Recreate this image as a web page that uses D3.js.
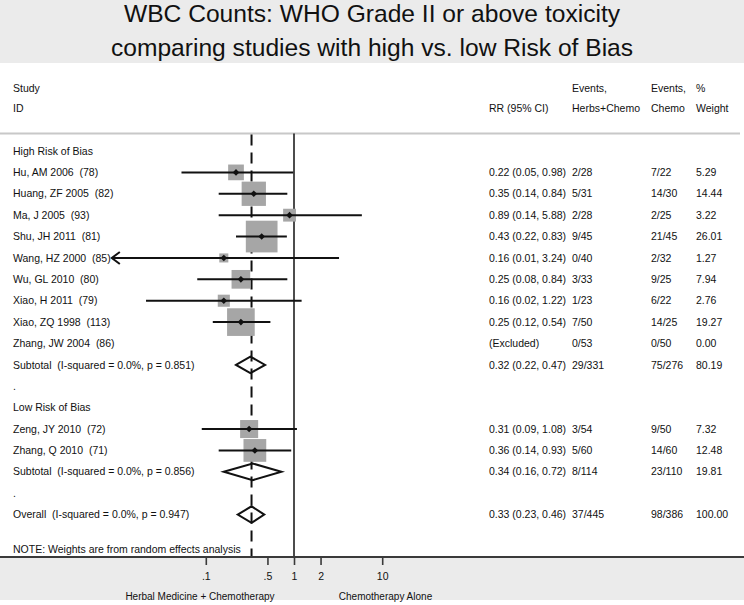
<!DOCTYPE html>
<html>
<head>
<meta charset="utf-8">
<script src="https://cdn.jsdelivr.net/npm/d3@7"></script>
<style>
  html, body { margin: 0; padding: 0; background: #fff; }
  svg text { font-family: "Liberation Sans", Arial, Helvetica, sans-serif; fill: #111; white-space: pre; }
</style>
</head>
<body>
<svg id="chart" width="744" height="605"></svg>
<script>
// ---------------- DATA ----------------
const titleLines = ["WBC Counts: WHO Grade II or above toxicity",
                    "comparing studies with high vs. low Risk of Bias"];
const rowLabels = [
  "High Risk of Bias",
  "Hu, AM 2006  (78)",
  "Huang, ZF 2005  (82)",
  "Ma, J 2005  (93)",
  "Shu, JH 2011  (81)",
  "Wang, HZ 2000  (85)",
  "Wu, GL 2010  (80)",
  "Xiao, H 2011  (79)",
  "Xiao, ZQ 1998  (113)",
  "Zhang, JW 2004  (86)",
  "Subtotal  (I-squared = 0.0%, p = 0.851)",
  ".",
  "Low Risk of Bias",
  "Zeng, JY 2010  (72)",
  "Zhang, Q 2010  (71)",
  "Subtotal  (I-squared = 0.0%, p = 0.856)",
  ".",
  "Overall  (I-squared = 0.0%, p = 0.947)"
];
const rowTypes = ["group","study","study","study","study","study","study","study","study","study",
                  "pooled","blank","group","study","study","pooled","blank","pooled"];
const rrValues = [null,0.22,0.35,0.89,0.43,0.16,0.25,0.16,0.25,null,0.32,null,null,0.31,0.36,0.34,null,0.33];
const ciLower  = [null,0.053,0.14,0.14,0.22,0.0086,0.08,0.021,0.12,null,0.22,null,null,0.09,0.14,0.16,null,0.23];
const ciUpper  = [null,0.98,0.84,5.88,0.83,3.24,0.84,1.22,0.54,null,0.47,null,null,1.08,0.93,0.72,null,0.46];
const ciText   = ["","0.22 (0.05, 0.98)","0.35 (0.14, 0.84)","0.89 (0.14, 5.88)","0.43 (0.22, 0.83)",
                  "0.16 (0.01, 3.24)","0.25 (0.08, 0.84)","0.16 (0.02, 1.22)","0.25 (0.12, 0.54)",
                  "(Excluded)","0.32 (0.22, 0.47)","","","0.31 (0.09, 1.08)","0.36 (0.14, 0.93)",
                  "0.34 (0.16, 0.72)","","0.33 (0.23, 0.46)"];
const eventsHerbs = ["","2/28","5/31","2/28","9/45","0/40","3/33","1/23","7/50","0/53","29/331","","",
                     "3/54","5/60","8/114","","37/445"];
const eventsChemo = ["","7/22","14/30","2/25","21/45","2/32","9/25","6/22","14/25","0/50","75/276","","",
                     "9/50","14/60","23/110","","98/386"];
const weights = [null,5.29,14.44,3.22,26.01,1.27,7.94,2.76,19.27,0.00,80.19,null,null,7.32,12.48,19.81,null,100.00];
const overallRR = 0.33;
const tickValues = [0.1, 0.5, 1, 2, 10];
const tickLabels = [".1", ".5", "1", "2", "10"];
const headerTop = ["Study", "", "Events,", "Events,", "%"];
const headerBottom = ["ID", "RR (95% CI)", "Herbs+Chemo", "Chemo", "Weight"];
const axisTitles = ["Herbal Medicine + Chemotherapy", "Chemotherapy Alone"];
const noteText = "NOTE: Weights are from random effects analysis";

// ---------------- LAYOUT ----------------
const W = 744, H = 605;
const svg = d3.select("#chart");
const fs = 10.5;
const colX = [13, 489, 572, 651, 696];
const plotTop = 133.5, axisY = 557;

const x = d3.scaleLog().domain([0.1, 10]).range([205.8, 382.2]);
const y = d3.scalePoint().domain(d3.range(rowLabels.length)).range([151, 514.6]);
const side = d3.scaleLinear().domain([0, Math.sqrt(26.01)]).range([2.6, 31.7]);

// Title band
svg.append("rect").attr("x",0).attr("y",0).attr("width",W).attr("height",63).attr("fill","#ebebeb");
svg.selectAll("text.title").data(titleLines).join("text")
  .attr("class","title")
  .attr("x", W/2).attr("y",(d,i)=> i===0 ? 22 : 55.5)
  .attr("text-anchor","middle")
  .style("font-size","24.6px")
  .text(d=>d);

// Bottom band
svg.append("rect").attr("x",0).attr("y",axisY).attr("width",W).attr("height",43).attr("fill","#ebebeb");

// Header
headerTop.forEach((t,i)=>{
  if (t) svg.append("text").attr("x",colX[i]).attr("y",88).attr("dy","0.35em").style("font-size",fs+"px").text(t);
});
headerBottom.forEach((t,i)=>{
  svg.append("text").attr("x",colX[i]).attr("y",108).attr("dy","0.35em").style("font-size",fs+"px").text(t);
});

// Separator
svg.append("line").attr("x1",0).attr("x2",740).attr("y1",plotTop).attr("y2",plotTop)
  .attr("stroke","#c8c8c8").attr("stroke-width",2);

// Reference lines
svg.append("line").attr("x1",x(1)).attr("x2",x(1)).attr("y1",plotTop).attr("y2",axisY)
  .attr("stroke","#111").attr("stroke-width",1.5);
svg.append("line").attr("x1",x(overallRR)).attr("x2",x(overallRR)).attr("y1",plotTop+1).attr("y2",axisY)
  .attr("stroke","#111").attr("stroke-width",2).attr("stroke-dasharray","11,7");

const idx = d3.range(rowLabels.length);
const studyIdx = idx.filter(i => rowTypes[i]==="study" && rrValues[i]!=null);
const pooledIdx = idx.filter(i => rowTypes[i]==="pooled");

// Weight squares
svg.selectAll("rect.box").data(studyIdx).join("rect")
  .attr("class","box")
  .attr("x", i => x(rrValues[i]) - side(Math.sqrt(weights[i]))/2)
  .attr("y", i => y(i) - side(Math.sqrt(weights[i]))/2)
  .attr("width", i => side(Math.sqrt(weights[i])))
  .attr("height", i => side(Math.sqrt(weights[i])))
  .attr("fill","#a6a6a6");

// CI lines
svg.selectAll("line.ci").data(studyIdx).join("line")
  .attr("class","ci")
  .attr("x1", i => x(ciLower[i])).attr("x2", i => x(ciUpper[i]))
  .attr("y1", i => y(i)).attr("y2", i => y(i))
  .attr("stroke","#111").attr("stroke-width",2);

// Arrows for CIs running past the axis range
const axisMin = 0.01;
studyIdx.filter(i => ciLower[i] < axisMin).forEach(i=>{
  const ax = x(ciLower[i]), ay = y(i);
  svg.append("path")
    .attr("d", `M${ax+8},${ay-6} L${ax},${ay} L${ax+8},${ay+6}`)
    .attr("fill","none").attr("stroke","#111").attr("stroke-width",2);
});

// Point estimate markers
svg.selectAll("path.pt").data(studyIdx).join("path")
  .attr("class","pt")
  .attr("d", i => { const cx = x(rrValues[i]), cy = y(i), r = 3.3;
      return `M${cx},${cy-r} L${cx+r},${cy} L${cx},${cy+r} L${cx-r},${cy} Z`; })
  .attr("fill","#111");

// Pooled diamonds
svg.selectAll("path.pool").data(pooledIdx).join("path")
  .attr("class","pool")
  .attr("d", i => { const cy = y(i), h = 8.3;
      return `M${x(ciLower[i])},${cy} L${x(rrValues[i])},${cy-h} L${x(ciUpper[i])},${cy} L${x(rrValues[i])},${cy+h} Z`; })
  .attr("fill","none").attr("stroke","#111").attr("stroke-width",2).attr("stroke-linejoin","miter");

// Row labels and columns
idx.forEach(i=>{
  const yy = y(i);
  const cols = [rowLabels[i], ciText[i], eventsHerbs[i], eventsChemo[i],
                weights[i]==null ? "" : weights[i].toFixed(2)];
  cols.forEach((t,c)=>{
    if (!t) return;
    svg.append("text").attr("x",colX[c]).attr("y",yy).attr("dy","0.35em")
      .attr("xml:space","preserve")
      .style("font-size",fs+"px").text(t);
  });
});

// Note
svg.append("text").attr("x",13).attr("y",549).attr("dy","0.35em").style("font-size",fs+"px").text(noteText);

// Axis
svg.append("line").attr("x1",0).attr("x2",W).attr("y1",axisY).attr("y2",axisY)
  .attr("stroke","#3a3a3a").attr("stroke-width",2.2);
const axis = d3.axisBottom(x).tickValues(tickValues).tickSize(8)
  .tickFormat((d,i)=>tickLabels[i]).tickPadding(8);
const gAxis = svg.append("g").attr("transform",`translate(0,${axisY})`).call(axis);
gAxis.select(".domain").remove();
gAxis.selectAll(".tick line").attr("stroke","#3a3a3a").attr("stroke-width",1.6);
gAxis.selectAll(".tick text").style("font-size","10.5px").attr("fill","#111")
  .style("font-family","'Liberation Sans', Arial, Helvetica, sans-serif");

// Axis titles
svg.append("text").attr("x",200).attr("y",596).attr("dy","0.35em").attr("text-anchor","middle")
  .style("font-size","10px").text(axisTitles[0]);
svg.append("text").attr("x",385.5).attr("y",596).attr("dy","0.35em").attr("text-anchor","middle")
  .style("font-size","10px").text(axisTitles[1]);
</script>
</body>
</html>
